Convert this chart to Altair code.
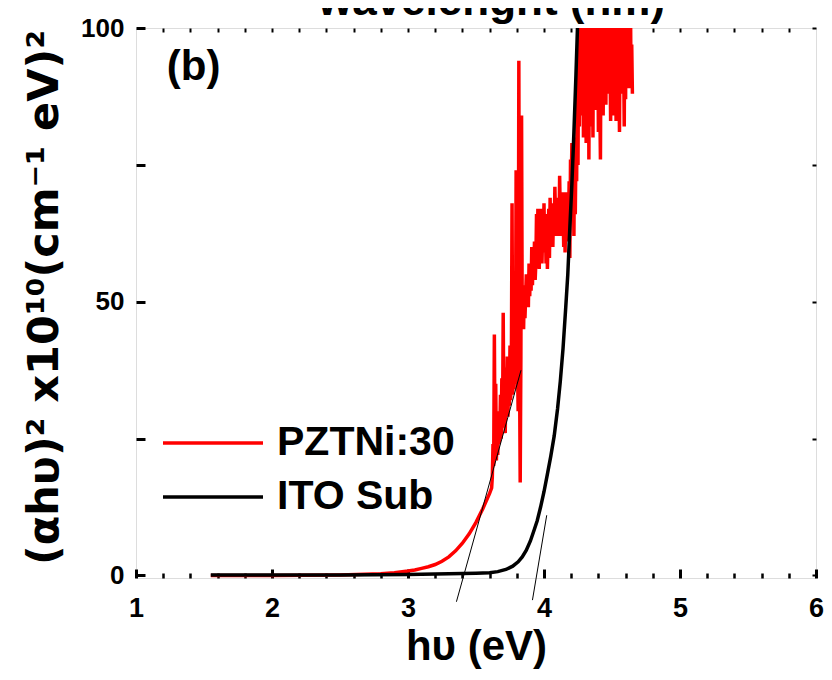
import altair as alt
import pandas as pd

FONT = "Liberation Sans"

# ---- data ----
series_names = ["PZTNi:30", "ITO Sub"]
series_colors = ["#ff0000", "#000000"]

red_smooth_hv = [1.55, 2.0, 2.5, 2.8, 2.9, 3.0, 3.05, 3.1, 3.15, 3.2, 3.25, 3.3,
                 3.35, 3.4, 3.45, 3.5, 3.55, 3.6, 3.615]
red_smooth_val = [0.0, 0.0, 0.1, 0.3, 0.5, 0.8, 1.0, 1.3, 1.6, 2.0, 2.6, 3.4,
                  4.5, 5.9, 7.6, 9.7, 12.2, 15.0, 16.0]

red_noise1_hv = [3.620, 3.625, 3.630, 3.635, 3.640, 3.645, 3.650, 3.655, 3.660, 3.665,
                 3.670, 3.675, 3.680, 3.685, 3.690, 3.695, 3.700, 3.705, 3.710, 3.715,
                 3.720, 3.725, 3.730, 3.735, 3.740, 3.745, 3.750, 3.755, 3.760, 3.765,
                 3.770, 3.775, 3.780, 3.785, 3.790, 3.795, 3.800, 3.805, 3.810, 3.815,
                 3.820, 3.825, 3.830, 3.835, 3.840]
red_noise1_val = [18, 24, 20, 44, 22, 35, 21, 28, 22, 30,
                  24, 26, 33, 25, 36, 27, 48, 28, 34, 26,
                  38, 30, 40, 29, 36, 31, 42, 32, 38, 68,
                  33, 40, 34, 42, 35, 74, 36, 39, 30, 94,
                  38, 17, 40, 84, 45]

red_noise2_hv = [3.845, 3.850, 3.855, 3.860, 3.865, 3.870, 3.875, 3.880, 3.885, 3.890,
                 3.895, 3.900, 3.905, 3.910, 3.915, 3.920, 3.925, 3.930, 3.935, 3.940,
                 3.945, 3.950, 3.955, 3.960, 3.965, 3.970, 3.975, 3.980, 3.985, 3.990,
                 3.995, 4.000, 4.005, 4.010, 4.015, 4.020, 4.025, 4.030, 4.035, 4.040,
                 4.045, 4.050, 4.055, 4.060, 4.065, 4.070, 4.075, 4.080, 4.085, 4.090,
                 4.095, 4.100, 4.105, 4.110, 4.115, 4.120, 4.125, 4.130, 4.135, 4.140,
                 4.145, 4.150, 4.155, 4.160, 4.165, 4.170, 4.175, 4.180, 4.185, 4.190,
                 4.195, 4.200, 4.205, 4.210, 4.215, 4.220, 4.225, 4.230, 4.235, 4.240,
                 4.245, 4.250, 4.255, 4.260, 4.265]
red_noise2_val = [52, 45, 53, 47, 51, 55, 50, 54, 49, 57,
                  51, 56, 52, 60, 53, 58, 55, 61, 54, 57,
                  66, 58, 67, 60, 56, 64, 59, 67, 57, 63,
                  60, 68, 59, 65, 57, 66, 56, 62, 67, 58,
                  69, 61, 68, 64, 60, 67, 63, 71, 65, 62,
                  69, 64, 67, 62, 73, 65, 70, 66, 62, 68,
                  60, 70, 59, 66, 68, 61, 70, 64, 72, 58,
                  76, 70, 79, 68, 74, 62, 80, 66, 78, 72,
                  92, 75, 102, 82, 110]

red_noise3_hv = [4.270, 4.275, 4.280, 4.285, 4.290, 4.295, 4.300, 4.305, 4.310, 4.315,
                 4.320, 4.325, 4.330, 4.335, 4.340, 4.345, 4.350, 4.355, 4.360, 4.365,
                 4.370, 4.375, 4.380, 4.385, 4.390, 4.395, 4.400, 4.405, 4.410, 4.415,
                 4.420, 4.425, 4.430, 4.435, 4.440, 4.445, 4.450, 4.455, 4.460, 4.465,
                 4.470, 4.475, 4.480, 4.485, 4.490, 4.495, 4.500, 4.505, 4.510, 4.515,
                 4.520, 4.525, 4.530, 4.535, 4.540, 4.545, 4.550, 4.555, 4.560, 4.565,
                 4.570, 4.575, 4.580, 4.585, 4.590, 4.595, 4.600, 4.605, 4.610, 4.615,
                 4.620, 4.625, 4.630, 4.635, 4.640, 4.645, 4.650]
red_noise3_val = [88, 112, 84, 108, 80, 115, 86, 104, 79, 110,
                  90, 118, 76, 106, 82, 112, 88, 101, 80, 114,
                  92, 108, 85, 117, 89, 103, 81, 110, 87, 76,
                  106, 90, 113, 84, 102, 94, 116, 86, 107, 92,
                  111, 88, 104, 95, 83, 109, 90, 114, 84, 101,
                  93, 112, 83, 106, 89, 118, 94, 81, 105, 91,
                  113, 88, 103, 96, 82, 110, 87, 115, 93, 105,
                  89, 119, 92, 108, 89, 97, 88]

black_hv = [1.55, 2.0, 2.5, 3.0, 3.3, 3.5, 3.6, 3.66, 3.72, 3.77, 3.81, 3.84, 3.87,
            3.90, 3.93, 3.95, 3.975, 4.0, 4.025, 4.05, 4.075, 4.10, 4.12, 4.14, 4.16,
            4.175, 4.19, 4.205, 4.22, 4.235, 4.25, 4.26]
black_val = [0.1, 0.1, 0.1, 0.2, 0.3, 0.4, 0.5, 0.7, 1.1, 1.7, 2.5, 3.4, 4.6,
             6.3, 8.5, 10.0, 12.5, 15.3, 18.5, 21.8, 25.5, 30.5, 35.5, 41.5, 49.0,
             55.0, 63.5, 71.5, 81.0, 91.5, 103.0, 112.0]

# tangent (extrapolation) lines
tan_x = [3.356, 3.915]
tan_y = [-4.8, -4.5]
tan_x2 = [3.831, 4.02]
tan_y2 = [37.5, 11.0]

panel_text = ["(b)"]
panel_x = [1.227]
panel_y = [90.5]

x_major = [1, 2, 3, 4, 5, 6]
x_minor = [round(1 + 0.2 * i, 1) for i in range(1, 25) if i % 5 != 0]
x_top = [round(1 + 0.2 * i, 1) for i in range(1, 25)]
y_ticks = [0, 25, 50, 75, 100]

# ---- tables ----
red_hv = red_smooth_hv + red_noise1_hv + red_noise2_hv + red_noise3_hv
red_val = red_smooth_val + red_noise1_val + red_noise2_val + red_noise3_val
df_lines = pd.DataFrame({
    "hv": red_hv + black_hv,
    "val": red_val + black_val,
    "series": [series_names[0]] * len(red_hv) + [series_names[1]] * len(black_hv),
})
df_tan = pd.DataFrame({"x": tan_x, "y": tan_y, "x2": tan_x2, "y2": tan_y2})
df_lab = pd.DataFrame({"x": panel_x, "y": panel_y, "t": panel_text})

W, H = 680, 550

xscale = alt.Scale(domain=[1, 6], nice=False, zero=False)
yscale = alt.Scale(domain=[-0.46, 100], nice=False, zero=False)

lines = alt.Chart(df_lines).mark_line(strokeWidth=3.5, clip=True).encode(
    x=alt.X("hv:Q", scale=xscale, axis=alt.Axis(
        orient="bottom", values=x_major, offset=-9, tickSize=9, tickWidth=3,
        tickColor="black", domain=False, grid=False, format="d",
        labelFont=FONT, labelFontSize=27, labelFontWeight="bold", labelColor="black",
        labelPadding=17, labelFlush=False, labelOverlap=False,
        title="hυ (eV)", titleFont=FONT, titleFontSize=42, titleFontWeight="bold",
        titleColor="black", titleX=W / 2, titleY=90, titleBaseline="alphabetic",
        titleAlign="center")),
    y=alt.Y("val:Q", scale=yscale, axis=alt.Axis(
        orient="left", values=y_ticks, offset=-9, tickSize=9, tickWidth=3,
        tickColor="black", domain=False, grid=False,
        labelExpr="datum.value % 50 == 0 ? datum.label : ''",
        labelFont=FONT, labelFontSize=26, labelFontWeight="bold", labelColor="black",
        labelPadding=12, labelFlush=False, labelOverlap=False,
        title="(αhυ)²   x10¹⁰(cm⁻¹ eV)²", titleFont="DejaVu Sans", titleFontSize=43,
        titleFontWeight="bold", titleColor="black", titleAngle=270,
        titleX=-88, titleY=269, titleBaseline="alphabetic", titleAlign="center",
        titleLimit=700)),
    color=alt.Color("series:N", scale=alt.Scale(domain=series_names, range=series_colors),
                    legend=alt.Legend(
                        title=None, orient="none", legendX=25, legendY=390,
                        direction="vertical", symbolType="stroke", symbolSize=10000,
                        symbolStrokeWidth=3.5, labelFont=FONT, labelFontSize=41,
                        labelFontWeight="bold", labelColor="black", labelOffset=12,
                        labelLimit=500, clipHeight=50, rowPadding=4, padding=0)),
)

tangents = alt.Chart(df_tan).mark_rule(strokeWidth=1, color="black").encode(
    x=alt.X("x:Q", scale=xscale, axis=alt.Axis(
        orient="bottom", values=x_minor, offset=-5, tickSize=5, tickWidth=2.5,
        tickColor="black", labels=False, domain=False, grid=False, title=None)),
    x2="x2:Q",
    y=alt.Y("y:Q", scale=yscale, axis=alt.Axis(
        orient="right", values=y_ticks, offset=-4, tickSize=4, tickWidth=2,
        tickColor="black", labels=False, domain=False, grid=False, title=None)),
    y2="y2:Q",
)

panel = alt.Chart(df_lab).mark_text(
    font=FONT, fontSize=42, fontWeight="bold", align="left",
    baseline="alphabetic", color="black").encode(
    x=alt.X("x:Q", scale=xscale, axis=alt.Axis(
        orient="top", values=x_top, offset=-4, tickSize=4, tickWidth=2,
        tickColor="black", labels=False, domain=False, grid=False,
        title="wavelenght (nm)", titleFont=FONT, titleFontSize=44,
        titleFontWeight="bold", titleColor="black", titleX=355, titleY=-18,
        titleBaseline="alphabetic", titleAlign="center", titleLimit=700)),
    y=alt.Y("y:Q", scale=yscale, axis=None),
    text="t:N",
)

chart = alt.layer(lines, tangents, panel).resolve_axis(
    x="independent", y="independent"
).properties(
    width=W, height=H,
    autosize=alt.AutoSizeParams(type="none"),
    padding={"left": 128, "top": 20, "right": 8, "bottom": 92},
).configure_view(stroke="black", strokeWidth=3).configure(background="white")

chart.save("out.html", embed_options={"renderer": "svg", "actions": False})
